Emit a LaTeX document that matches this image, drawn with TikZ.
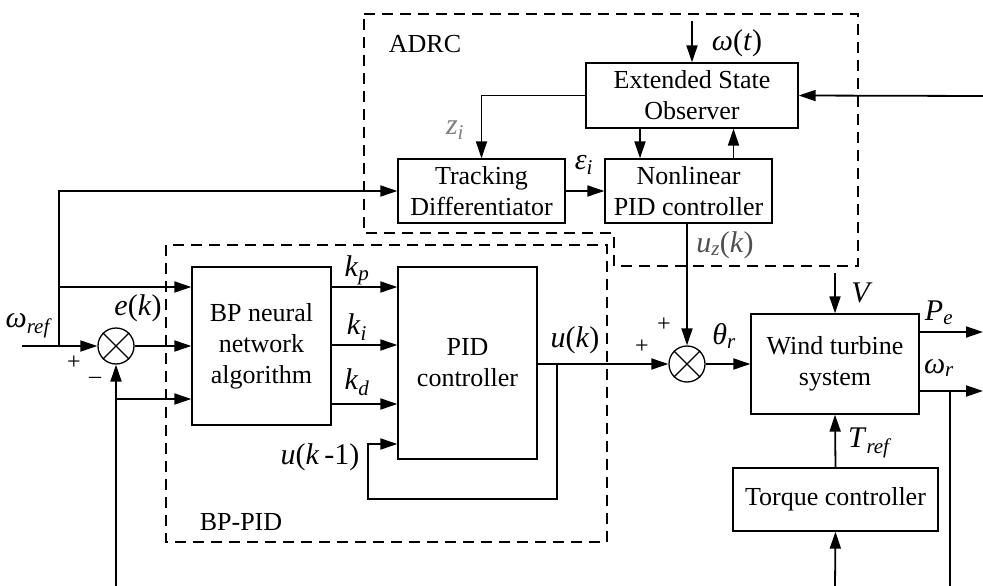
\documentclass[tikz,border=0pt]{standalone}
\usepackage{fontspec}
\setmainfont{Liberation Serif}
\usetikzlibrary{arrows.meta,calc}
\newcommand\mv[1]{\textit{#1}}
\definecolor{lgray}{HTML}{808080}
\definecolor{dgray}{HTML}{505050}
\begin{document}
\begin{tikzpicture}[x=1pt,y=-1pt,
  blk/.style={draw, line width=1.3pt, fill=white, align=center, inner sep=0pt, font=\fontsize{26}{31}\selectfont},
  arr/.style={line width=1.8pt, -{Triangle[length=17pt,width=11pt]}},
  ln/.style={line width=1.8pt},
  grp/.style={line width=1.8pt, dash pattern=on 11pt off 7pt},
  grplab/.style={font=\fontsize{26}{31}\selectfont, inner sep=0pt},
  lab/.style={font=\fontsize{30}{34}\selectfont, inner sep=0pt},
  sm/.style={font=\fontsize{24}{26}\selectfont, inner sep=0pt},
  sumn/.style={circle, draw, line width=1.3pt, minimum size=36pt, inner sep=0pt}]
\useasboundingbox (0,0) rectangle (983,586);
% groups
\draw[grp] (364,14) -- (858,14) -- (858,266) -- (614,266) -- (614,233) -- (364,233) -- cycle;
\draw[grp] (166,245) rectangle (607,542);
\node[grplab] (adrc) at (425,44) {ADRC};
\node[grplab] (bppid) at (241,522) {BP-PID};
% blocks
\node[blk, minimum width=212pt, minimum height=65pt] (eso) at (692,95.5) {Extended State\\Observer};
\node[blk, minimum width=167pt, minimum height=64pt] (td) at (481.5,191) {Tracking\\Differentiator};
\node[blk, minimum width=167pt, minimum height=64pt] (npid) at (688.5,191) {Nonlinear\\PID controller};
\node[blk, minimum width=139pt, minimum height=158pt] (bp) at (261.5,346) {BP neural\\network\\algorithm};
\node[blk, minimum width=139pt, minimum height=192pt] (pid) at (467.5,363) {PID\\controller};
\node[blk, minimum width=168pt, minimum height=100pt] (wt) at (835,364) {Wind turbine\\system};
\node[blk, minimum width=205pt, minimum height=63pt] (tq) at (835.5,499.5) {Torque controller};
% summing junctions
\node[sumn] (s1) at (116,346) {};
\node[sumn] (s2) at (687,364) {};
\draw[line width=1.3pt] (s1.north west) -- (s1.south east) (s1.north east) -- (s1.south west);
\draw[line width=1.3pt] (s2.north west) -- (s2.south east) (s2.north east) -- (s2.south west);
% free ends
\coordinate (win) at (692,21);
\coordinate (ein) at (983,96);
\coordinate (in1) at (22,346);
\coordinate (br1) at (59,346);
\coordinate (br2) at (59,287);
\coordinate (fb) at (116,586);
\coordinate (fb2) at (116,399);
\coordinate (lp) at (557,364);
\coordinate (vin) at (835,273);
\coordinate (pe) at (983,332);
\coordinate (wr) at (983,391);
\coordinate (wrb) at (950,391);
\coordinate (wrd) at (950,586);
\coordinate (tin) at (835,586);
% ADRC connections
\draw[arr] (win) -- (eso.north);
\draw[arr] (ein) -- (eso.east);
\draw[arr] (eso.west) -| (td.north);
\draw[arr] ([xshift=-52pt]eso.south) coordinate (a1) -- (a1 |- npid.north);
\draw[arr] ([xshift=45pt]npid.north) coordinate (a2) -- (a2 |- eso.south);
\draw[arr] (td.east) -- (npid.west);
\draw[arr] (s2.north |- npid.south) -- (s2.north);
% reference and error
\draw[arr] (in1) -- (s1.west);
\draw[arr] (br1) |- (td.west);
\draw[arr] (br2) -- (br2 -| bp.west);
\draw[arr] (s1.east) -- (s1.east -| bp.west);
\draw[arr] (fb) -- (s1.south);
\draw[arr] (fb2) -- (fb2 -| bp.west);
% gains
\draw[arr] (bp.east |- 0,287) -- (pid.west |- 0,287);
\draw[arr] (bp.east |- 0,345) -- (pid.west |- 0,345);
\draw[arr] (bp.east |- 0,404) -- (pid.west |- 0,404);
% PID output and loop
\draw[arr] (pid.east |- s2.west) -- (s2.west);
\draw[arr] (lp) |- (368,499) |- (pid.west |- 0,444);
\draw[arr] (s2.east) -- (wt.west);
% plant
\draw[arr] (vin) -- (wt.north);
\draw[arr] (wt.east |- pe) -- (pe);
\draw[arr] (wt.east |- wr) -- (wr);
\draw[ln] (wrb) -- (wrd);
\draw[arr] (tq.north) -- (wt.south);
\draw[arr] (tin) -- (tq.south);
% labels
\node[lab] (lw) at (737,43) {\mv{ω}(\mv{t})};
\node[lab, text=lgray] (lz) at (455,130) {\mv{z}\textsubscript{\mv{i}}};
\node[lab] (leps) at (584,165) {\mv{ε}\textsubscript{\mv{i}}};
\node[lab, text=dgray] (luz) at (725,245) {\mv{u}\textsubscript{\mv{z}}(\mv{k})};
\node[lab] (lek) at (138,308) {\mv{e}(\mv{k})};
\node[lab] (lwref) at (29,326) {\mv{ω}\textsubscript{\mv{ref}}};
\node[sm] (p1) at (74,363) {+};
\node[sm] (m1) at (95,380) {–};
\node[lab] (lkp) at (357,270) {\mv{k}\textsubscript{\mv{p}}};
\node[lab] (lki) at (357,327) {\mv{k}\textsubscript{\mv{i}}};
\node[lab] (lkd) at (357,382) {\mv{k}\textsubscript{\mv{d}}};
\node[lab] (luk1) at (320,457) {\mv{u}(\mv{k}\,-1)};
\node[lab] (luk) at (575,340) {\mv{u}(\mv{k})};
\node[sm] (p2) at (642,347) {+};
\node[sm] (p3) at (664,325) {+};
\node[lab] (lth) at (724,336) {\mv{θ}\textsubscript{\mv{r}}};
\node[lab] (lv) at (862,293) {\mv{V}};
\node[lab] (lpe) at (939,313) {\mv{P}\textsubscript{\mv{e}}};
\node[lab] (lwr) at (939,368) {\mv{ω}\textsubscript{\mv{r}}};
\node[lab] (ltr) at (870,443) {\mv{T}\textsubscript{\mv{ref}}};
\end{tikzpicture}
\end{document}
